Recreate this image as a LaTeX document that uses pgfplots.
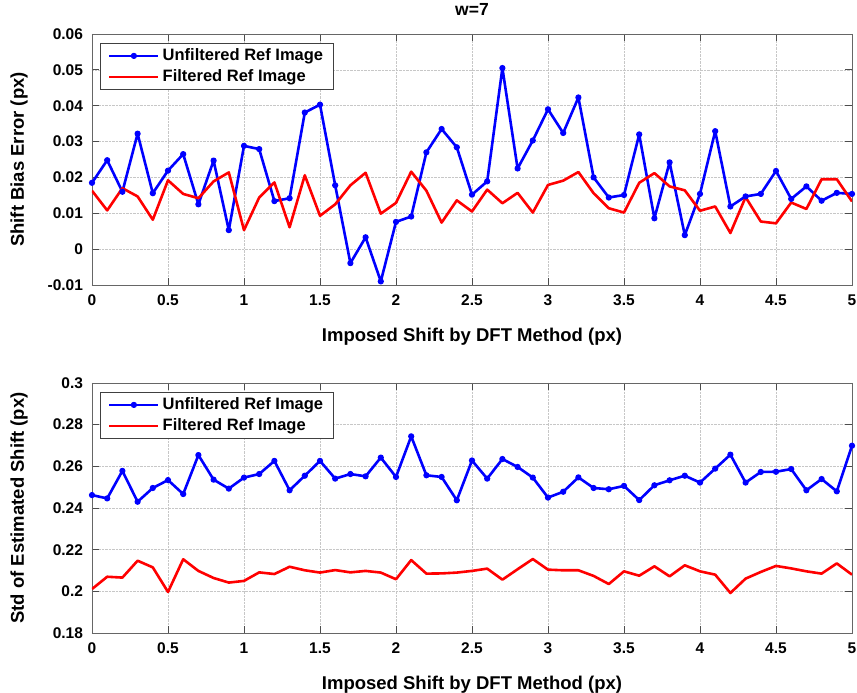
\documentclass[border=0pt]{standalone}
\usepackage{fontspec}
\setmainfont{Liberation Sans}
\usepackage{pgfplots}
\pgfplotsset{compat=1.18}
\newcommand\tickfont{\fontsize{15.5}{18}\selectfont\bfseries}
\newcommand\labfont{\fontsize{18.5}{22}\selectfont\bfseries}
\newcommand\legfont{\fontsize{16.5}{19}\selectfont\bfseries}
\newcommand\titfont{\fontsize{17.5}{21}\selectfont\bfseries}
\pgfplotsset{
  myaxis/.style={
    scale only axis, width=760pt,
    xmin=0, xmax=5,
    xtick={0,0.5,1,1.5,2,2.5,3,3.5,4,4.5,5},
    scaled y ticks=false, scaled x ticks=false,
    /pgf/number format/assume math mode=true,
    tick label style={font=\tickfont},
    yticklabel style={xshift=-5.5pt},
    xticklabel style={yshift=-6.5pt},
    grid=major,
    major grid style={densely dotted, black!22, line width=0.6pt},
    axis line style={black!60, line width=0.8pt},
    major tick style={black!70, line width=0.8pt},
    major tick length=7pt,
    xlabel style={font=\labfont, at={(axis description cs:0.5,0)}, anchor=base, yshift=-56.7pt},
    ylabel style={font=\labfont, at={(axis description cs:-0.096,0.5)}, anchor=center},
    legend cell align=left,
    legend style={at={(axis description cs:0,1)}, anchor=north west, xshift=8pt, yshift=-9pt,
      font=\legfont, draw=black!75, line width=0.8pt, inner xsep=7.7pt, inner ysep=2pt,
      nodes={inner xsep=3pt, inner ysep=2pt, text height=13pt, text depth=4pt}},
    legend image code/.code={\draw[mark repeat=2,mark phase=2,##1] plot coordinates {(0pt,0pt) (24.5pt,0pt) (49pt,0pt)};},
  },
  ublue/.style={blue, line width=2.6pt, line join=round, mark=*, mark size=2.6pt, mark options={fill=blue, line width=1pt}},
  fred/.style={red, line width=2.6pt, line join=round, no markers},
}
\begin{document}
\begin{tikzpicture}
\useasboundingbox (0,0) rectangle (857pt,693pt);
\begin{axis}[myaxis, at={(92pt,408pt)}, anchor=south west, height=251pt,
  ymin=-0.01, ymax=0.06,
  ytick={-0.01,0,0.01,0.02,0.03,0.04,0.05,0.06},
  yticklabels={-0.01,0,0.01,0.02,0.03,0.04,0.05,0.06},
  title={w=7}, title style={font=\titfont, at={(axis description cs:0.5,1)}, anchor=base, yshift=12.3pt},
  xlabel={Imposed Shift by DFT Method (px)},
  ylabel={Shift Bias Error (px)}]
\addplot[ublue] coordinates {
(0,0.0185) (0.1,0.0248) (0.2,0.0160) (0.3,0.0322) (0.4,0.0156) (0.5,0.0219) (0.6,0.0265) (0.7,0.0125) (0.8,0.0247) (0.9,0.0053)
(1.0,0.0288) (1.1,0.0279) (1.2,0.0134) (1.3,0.0142) (1.4,0.0381) (1.5,0.0403) (1.6,0.0178) (1.7,-0.0039) (1.8,0.0033) (1.9,-0.0090)
(2.0,0.0076) (2.1,0.0091) (2.2,0.0270) (2.3,0.0335) (2.4,0.0284) (2.5,0.0152) (2.6,0.0189) (2.7,0.0505) (2.8,0.0225) (2.9,0.0303)
(3.0,0.0390) (3.1,0.0324) (3.2,0.0423) (3.3,0.0200) (3.4,0.0144) (3.5,0.0151) (3.6,0.0320) (3.7,0.0086) (3.8,0.0242) (3.9,0.0039)
(4.0,0.0154) (4.1,0.0329) (4.2,0.0119) (4.3,0.0147) (4.4,0.0154) (4.5,0.0218) (4.6,0.0140) (4.7,0.0175) (4.8,0.0135) (4.9,0.0157) (5.0,0.0154)};
\addlegendentry{Unfiltered Ref Image}
\addplot[fred] coordinates {
(0,0.0163) (0.1,0.0108) (0.2,0.0170) (0.3,0.0147) (0.4,0.0082) (0.5,0.0192) (0.6,0.0154) (0.7,0.0142) (0.8,0.0189) (0.9,0.0214)
(1.0,0.0053) (1.1,0.0144) (1.2,0.0186) (1.3,0.0061) (1.4,0.0206) (1.5,0.0093) (1.6,0.0125) (1.7,0.0178) (1.8,0.0213) (1.9,0.0099)
(2.0,0.0129) (2.1,0.0216) (2.2,0.0163) (2.3,0.0074) (2.4,0.0136) (2.5,0.0105) (2.6,0.0166) (2.7,0.0128) (2.8,0.0157) (2.9,0.0102)
(3.0,0.0179) (3.1,0.0191) (3.2,0.0215) (3.3,0.0156) (3.4,0.0114) (3.5,0.0102) (3.6,0.0185) (3.7,0.0212) (3.8,0.0175) (3.9,0.0164)
(4.0,0.0107) (4.1,0.0119) (4.2,0.0045) (4.3,0.0145) (4.4,0.0077) (4.5,0.0072) (4.6,0.0130) (4.7,0.0112) (4.8,0.0195) (4.9,0.0195) (5.0,0.0133)};
\addlegendentry{Filtered Ref Image}
\end{axis}
\begin{axis}[myaxis, at={(92pt,60pt)}, anchor=south west, height=250pt,
  ymin=0.18, ymax=0.30,
  ytick={0.18,0.2,0.22,0.24,0.26,0.28,0.3},
  yticklabels={0.18,0.2,0.22,0.24,0.26,0.28,0.3},
  xlabel={Imposed Shift by DFT Method (px)},
  ylabel={Std of Estimated Shift (px)}]
\addplot[ublue] coordinates {
(0,0.2462) (0.1,0.2446) (0.2,0.2578) (0.3,0.2430) (0.4,0.2496) (0.5,0.2534) (0.6,0.2467) (0.7,0.2654) (0.8,0.2536) (0.9,0.2493)
(1.0,0.2546) (1.1,0.2563) (1.2,0.2626) (1.3,0.2485) (1.4,0.2555) (1.5,0.2626) (1.6,0.2541) (1.7,0.2563) (1.8,0.2552) (1.9,0.2642)
(2.0,0.2549) (2.1,0.2744) (2.2,0.2557) (2.3,0.2549) (2.4,0.2437) (2.5,0.2628) (2.6,0.2541) (2.7,0.2635) (2.8,0.2597) (2.9,0.2546)
(3.0,0.2450) (3.1,0.2478) (3.2,0.2547) (3.3,0.2496) (3.4,0.2490) (3.5,0.2506) (3.6,0.2438) (3.7,0.2509) (3.8,0.2533) (3.9,0.2555)
(4.0,0.2522) (4.1,0.2589) (4.2,0.2656) (4.3,0.2522) (4.4,0.2573) (4.5,0.2574) (4.6,0.2587) (4.7,0.2485) (4.8,0.2539) (4.9,0.2480) (5.0,0.2699)};
\addlegendentry{Unfiltered Ref Image}
\addplot[fred] coordinates {
(0,0.2011) (0.1,0.2070) (0.2,0.2066) (0.3,0.2147) (0.4,0.2115) (0.5,0.1997) (0.6,0.2154) (0.7,0.2098) (0.8,0.2064) (0.9,0.2042)
(1.0,0.2050) (1.1,0.2091) (1.2,0.2083) (1.3,0.2118) (1.4,0.2101) (1.5,0.2090) (1.6,0.2102) (1.7,0.2091) (1.8,0.2098) (1.9,0.2090)
(2.0,0.2058) (2.1,0.2150) (2.2,0.2085) (2.3,0.2086) (2.4,0.2090) (2.5,0.2098) (2.6,0.2109) (2.7,0.2056) (2.8,0.2106) (2.9,0.2155)
(3.0,0.2104) (3.1,0.2101) (3.2,0.2101) (3.3,0.2074) (3.4,0.2035) (3.5,0.2096) (3.6,0.2075) (3.7,0.2120) (3.8,0.2072) (3.9,0.2125)
(4.0,0.2096) (4.1,0.2080) (4.2,0.1992) (4.3,0.2061) (4.4,0.2093) (4.5,0.2122) (4.6,0.2110) (4.7,0.2096) (4.8,0.2085) (4.9,0.2134) (5.0,0.2080)};
\addlegendentry{Filtered Ref Image}
\end{axis}
\end{tikzpicture}
\end{document}
